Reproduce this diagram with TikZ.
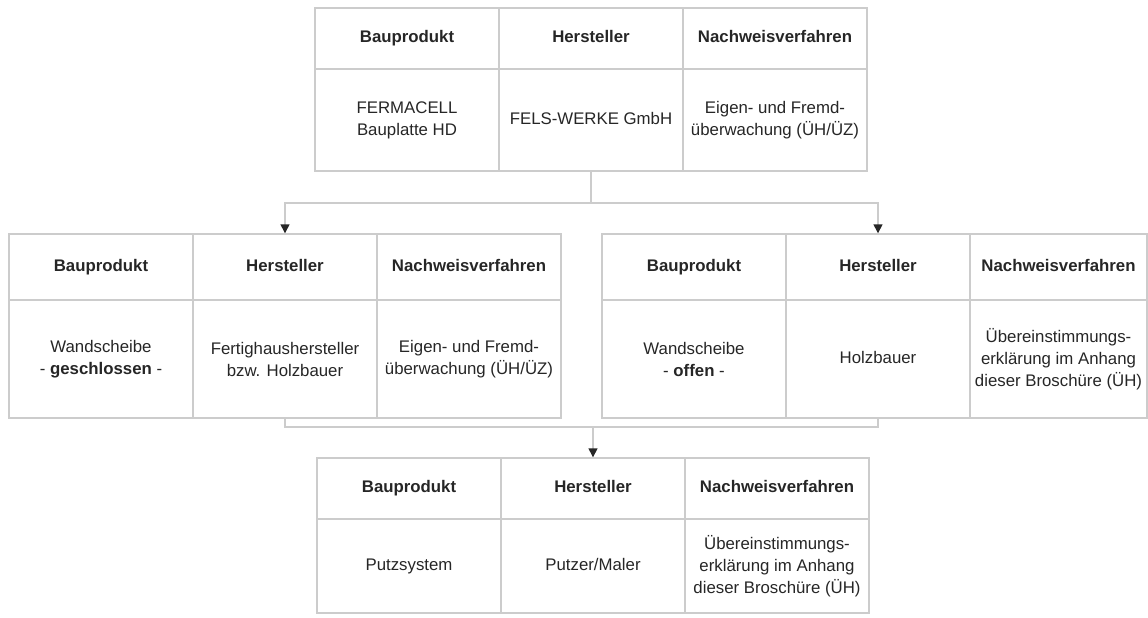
\documentclass[tikz,border=0pt]{standalone}
\usepackage{fontspec}
\setmainfont{Liberation Sans}
\usetikzlibrary{arrows.meta}
\definecolor{linie}{gray}{0.8}
\definecolor{schrift}{gray}{0.15}

\begin{document}
\begin{tikzpicture}[x=1pt,y=-1pt,
  zelle/.style={draw=linie,line width=1.4pt,text=schrift,align=center,minimum width=184pt,inner sep=2pt,font=\fontsize{16.8}{22}\selectfont},
  kopf/.style={zelle,font=\fontsize{16.8}{22}\selectfont\bfseries,text height=12pt,text depth=4pt},
  einzeilig/.style={text height=12pt,text depth=4pt},
  verbinder/.style={draw=linie,line width=1.4pt},
  pfeil/.style={verbinder,-{Triangle[length=9pt,width=9pt,color=schrift]}}]
\useasboundingbox (0,0) rectangle (1148,618);
% Bauplatte
\node[kopf,minimum height=61pt] (platteK1) at (407,38.5) {Bauprodukt};
\node[kopf,minimum height=61pt] (platteK2) at (591,38.5) {Hersteller};
\node[kopf,minimum height=61pt] (platteK3) at (775,38.5) {Nachweisverfahren};
\node[zelle,minimum height=102pt] (platteZ1) at (407,120) {FERMACELL\\Bauplatte HD};
\node[zelle,einzeilig,minimum height=102pt] (platteZ2) at (591,120) {FELS-WERKE GmbH};
\node[zelle,minimum height=102pt] (platteZ3) at (775,120) {Eigen- und Fremd-\\überwachung (ÜH/ÜZ)};
% Wandscheibe geschlossen
\node[kopf,minimum height=66pt] (geschlK1) at (101,267) {Bauprodukt};
\node[kopf,minimum height=66pt] (geschlK2) at (285,267) {Hersteller};
\node[kopf,minimum height=66pt] (geschlK3) at (469,267) {Nachweisverfahren};
\node[zelle,minimum height=118pt] (geschlZ1) at (101,359) {Wandscheibe\\- \textbf{geschlossen} -};
\node[zelle,minimum height=118pt] (geschlZ2) at (285,359) {Fertighaushersteller\\bzw. Holzbauer};
\node[zelle,minimum height=118pt] (geschlZ3) at (469,359) {Eigen- und Fremd-\\überwachung (ÜH/ÜZ)};
% Wandscheibe offen
\node[kopf,minimum height=66pt] (offenK1) at (694,267) {Bauprodukt};
\node[kopf,minimum height=66pt] (offenK2) at (878,267) {Hersteller};
\node[kopf,minimum height=66pt,minimum width=177pt] (offenK3) at (1058.5,267) {Nachweisverfahren};
\node[zelle,minimum height=118pt] (offenZ1) at (694,359) {Wandscheibe\\- \textbf{offen} -};
\node[zelle,einzeilig,minimum height=118pt] (offenZ2) at (878,359) {Holzbauer};
\node[zelle,minimum height=118pt,minimum width=177pt] (offenZ3) at (1058.5,359) {Übereinstimmungs-\\erklärung im Anhang\\dieser Broschüre (ÜH)};
% Putzsystem
\node[kopf,minimum height=61pt] (putzK1) at (409,488.5) {Bauprodukt};
\node[kopf,minimum height=61pt] (putzK2) at (593,488.5) {Hersteller};
\node[kopf,minimum height=61pt] (putzK3) at (777,488.5) {Nachweisverfahren};
\node[zelle,einzeilig,minimum height=94pt] (putzZ1) at (409,566) {Putzsystem};
\node[zelle,einzeilig,minimum height=94pt] (putzZ2) at (593,566) {Putzer/Maler};
\node[zelle,minimum height=94pt] (putzZ3) at (777,566) {Übereinstimmungs-\\erklärung im Anhang\\dieser Broschüre (ÜH)};
% Verbindungen
\coordinate (gabel) at (591,203);
\coordinate (sammel) at (593,427);
\draw[verbinder] (platteZ2.south) -- (gabel);
\draw[pfeil] (gabel) -| (geschlK2.north);
\draw[pfeil] (gabel) -| (offenK2.north);
\draw[verbinder] (geschlZ2.south) |- (sammel);
\draw[verbinder] (offenZ2.south) |- (sammel);
\draw[pfeil] (sammel) -- (putzK2.north);
\end{tikzpicture}
\end{document}
